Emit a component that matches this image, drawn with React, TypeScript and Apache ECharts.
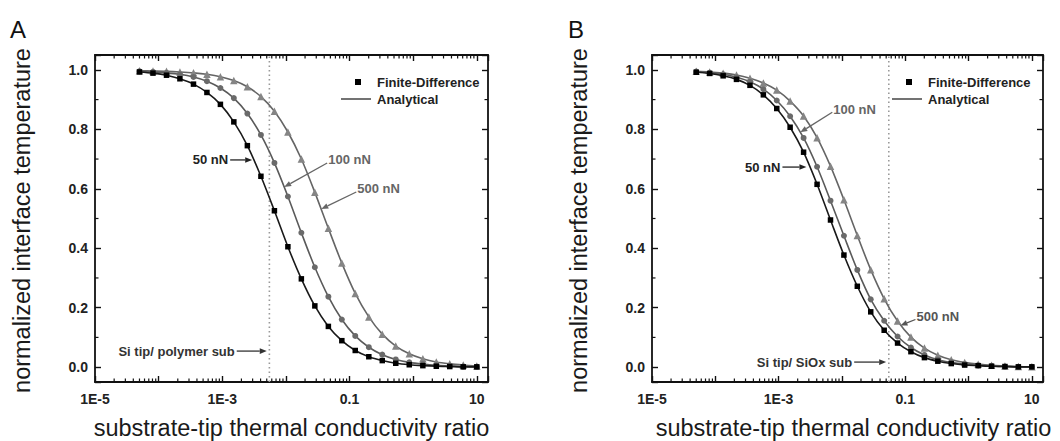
import React, { useEffect, useRef } from "react";
import * as echarts from "echarts";

const FONT = "'Liberation Sans', Arial, Helvetica, sans-serif";

// substrate-tip thermal conductivity ratio at which the points were computed
const conductivityRatio = [
  5.0e-5, 8.15e-5, 1.33e-4, 2.16e-4, 3.53e-4, 5.74e-4, 9.35e-4, 1.52e-3, 2.48e-3,
  4.05e-3, 6.6e-3, 1.075e-2, 1.75e-2, 2.85e-2, 4.65e-2, 7.57e-2, 0.123, 0.201,
  0.327, 0.533, 0.869, 1.42, 2.31, 3.76, 6.12, 10,
];

// Panel A: Si tip / polymer substrate
const polymer50nN = [0.993, 0.989, 0.982, 0.97, 0.952, 0.924, 0.884, 0.825, 0.745, 0.642, 0.526, 0.405, 0.297, 0.206, 0.137, 0.089, 0.056, 0.035, 0.022, 0.013, 0.008, 0.005, 0.003, 0.002, 0.001, 0.001];
const polymer100nN = [0.995, 0.993, 0.99, 0.985, 0.976, 0.962, 0.939, 0.905, 0.853, 0.781, 0.687, 0.574, 0.452, 0.336, 0.237, 0.16, 0.105, 0.067, 0.042, 0.026, 0.016, 0.01, 0.006, 0.004, 0.002, 0.001];
const polymer500nN = [0.997, 0.996, 0.995, 0.993, 0.99, 0.985, 0.977, 0.964, 0.943, 0.91, 0.861, 0.791, 0.7, 0.588, 0.467, 0.35, 0.248, 0.169, 0.111, 0.071, 0.045, 0.028, 0.017, 0.011, 0.007, 0.004];

// Panel B: Si tip / SiOx substrate
const siox50nN = [0.992, 0.988, 0.98, 0.968, 0.948, 0.916, 0.87, 0.807, 0.723, 0.615, 0.495, 0.377, 0.272, 0.186, 0.124, 0.081, 0.052, 0.032, 0.02, 0.012, 0.007, 0.005, 0.003, 0.002, 0.001, 0.001];
const siox100nN = [0.994, 0.99, 0.985, 0.975, 0.96, 0.935, 0.897, 0.844, 0.771, 0.674, 0.56, 0.442, 0.327, 0.228, 0.156, 0.103, 0.066, 0.041, 0.025, 0.016, 0.01, 0.006, 0.004, 0.002, 0.001, 0.001];
const siox500nN = [0.995, 0.993, 0.989, 0.983, 0.972, 0.956, 0.932, 0.895, 0.845, 0.772, 0.676, 0.563, 0.443, 0.328, 0.23, 0.155, 0.101, 0.064, 0.04, 0.025, 0.016, 0.01, 0.006, 0.004, 0.002, 0.001];

// axis definitions
const xMin = 1e-5;
const xMax = 15;
const yMin = -0.05;
const yMax = 1.05;
const xTickLabels: Record<number, string> = { [-5]: "1E-5", [-3]: "1E-3", [-1]: "0.1", [1]: "10" };
const minorDecades = [-5, -4, -3, -2, -1, 0, 1];
const minorMantissas = [2, 3, 4, 5, 6, 7, 8, 9];
const yMinorTicks = [0.1, 0.3, 0.5, 0.7, 0.9];

const xTitle = "substrate-tip thermal conductivity ratio";
const yTitle = "normalized interface temperature";

const curveStyles = [
  { name: "50 nN", symbol: "rect", size: 5.5, marker: "#000000", line: "#1a1a1a" },
  { name: "100 nN", symbol: "circle", size: 6, marker: "#6a6a6a", line: "#5a5a5a" },
  { name: "500 nN", symbol: "triangle", size: 7.5, marker: "#858585", line: "#656565" },
];

const panels = [
  {
    letter: "A",
    letterX: 10,
    left: 95,
    width: 393,
    titleShift: 0,
    legendShift: 0,
    curves: [polymer50nN, polymer100nN, polymer500nN],
    refX: 5.5e-3,
    notes: [
      { text: "50 nN", tip: [2.95e-3, 0.697], dx: -22, dy: 0, color: "#222" },
      { text: "100 nN", tip: [9.4e-3, 0.606], dx: 43, dy: -24, color: "#666" },
      { text: "500 nN", tip: [3.6e-2, 0.532], dx: 35, dy: -17, color: "#666" },
      { text: "Si tip/ polymer sub", tip: [5.0e-3, 0.054], dx: -30, dy: 0, color: "#333" },
    ],
  },
  {
    letter: "B",
    letterX: 568,
    left: 652,
    width: 391,
    titleShift: 6,
    legendShift: -4,
    curves: [siox50nN, siox100nN, siox500nN],
    refX: 0.055,
    notes: [
      { text: "100 nN", tip: [2.2e-3, 0.79], dx: 32, dy: -20, color: "#666" },
      { text: "50 nN", tip: [2.75e-3, 0.673], dx: -24, dy: 0, color: "#222" },
      { text: "500 nN", tip: [8.4e-2, 0.14], dx: 15, dy: -6, color: "#555" },
      { text: "Si tip/ SiOx sub", tip: [5.0e-2, 0.017], dx: -32, dy: 0, color: "#333" },
    ],
  },
];

const GRID_TOP = 55;
const GRID_H = 327;

function xLabel(v: number) {
  const e = Math.log10(v);
  const r = Math.round(e);
  if (Math.abs(e - r) > 1e-6) return "";
  return xTickLabels[r] ?? "";
}

function yLabel(v: number) {
  const r = Math.round(v * 5);
  if (Math.abs(v * 5 - r) > 1e-6) return "";
  return (r / 5).toFixed(1);
}

export default function App() {
  const ref = useRef<HTMLDivElement>(null);

  useEffect(() => {
    const el = ref.current;
    if (!el) return;
    const chart = echarts.init(el, null, { renderer: "svg" });

    const minorX: number[] = [];
    minorDecades.forEach((d) =>
      minorMantissas.forEach((m) => {
        const v = m * Math.pow(10, d);
        if (v < xMax) minorX.push(v);
      })
    );

    const axisLine = { show: true, onZero: false, lineStyle: { color: "#111", width: 1.8 } };
    const tick = { show: true, inside: true, length: 6, interval: 0, lineStyle: { color: "#111", width: 1.4 } };

    const grids: any[] = [];
    const xAxes: any[] = [];
    const yAxes: any[] = [];
    const series: any[] = [];
    const squareSeriesIndex: number[] = [];

    panels.forEach((p, i) => {
      grids.push({ left: p.left, top: GRID_TOP, width: p.width, height: GRID_H, containLabel: false });
      ["bottom", "top"].forEach((pos) =>
        xAxes.push({
          type: "log",
          logBase: 10,
          gridIndex: i,
          position: pos,
          min: xMin,
          max: xMax,
          axisLine,
          axisTick: tick,
          minorTick: { show: false },
          splitLine: { show: false },
          axisLabel: {
            show: pos === "bottom",
            interval: 0,
            formatter: xLabel,
            color: "#222",
            fontFamily: FONT,
            fontWeight: "bold",
            fontSize: 14,
            margin: 10,
          },
        })
      );
      ["left", "right"].forEach((pos) =>
        yAxes.push({
          type: "value",
          gridIndex: i,
          position: pos,
          min: yMin,
          max: yMax,
          splitNumber: 5,
          axisLine,
          axisTick: tick,
          splitLine: { show: false },
          axisLabel: {
            show: pos === "left",
            interval: 0,
            formatter: yLabel,
            color: "#222",
            fontFamily: FONT,
            fontWeight: "bold",
            fontSize: 14,
            margin: 7,
          },
        })
      );

      const ax = 2 * i;

      // dotted reference line (tip / substrate conductivity ratio)
      series.push({
        type: "line",
        xAxisIndex: ax,
        yAxisIndex: ax,
        data: [
          [p.refX, yMin],
          [p.refX, yMax],
        ],
        symbol: "none",
        silent: true,
        z: 1,
        lineStyle: { color: "#999999", width: 1.6, type: [1.5, 3] },
        emphasis: { disabled: true },
      });

      [2, 1, 0].forEach((j) => {
        const st = curveStyles[j];
        if (j === 0) squareSeriesIndex[i] = series.length;
        series.push({
          type: "line",
          name: st.name,
          xAxisIndex: ax,
          yAxisIndex: ax,
          data: conductivityRatio.map((x, k) => [x, p.curves[j][k]]),
          symbol: st.symbol,
          symbolSize: st.size,
          showAllSymbol: true,
          smooth: 0.3,
          lineStyle: { color: st.line, width: 1.6 },
          itemStyle: { color: st.marker, borderWidth: 0 },
          emphasis: { disabled: true },
          silent: true,
          z: 3 + (2 - j),
        });
      });

      series.push({
        type: "custom",
        xAxisIndex: ax,
        yAxisIndex: ax,
        silent: true,
        clip: false,
        data: minorX.map((v) => [v, 0.5]),
        encode: { x: 0, y: 1 },
        renderItem: (_params: any, api: any) => {
          const x = api.value(0);
          const b = api.coord([x, yMin]);
          const t = api.coord([x, yMax]);
          const style = { stroke: "#111", lineWidth: 1.2 };
          return {
            type: "group",
            children: [
              { type: "line", shape: { x1: b[0], y1: b[1], x2: b[0], y2: b[1] - 3.5 }, style },
              { type: "line", shape: { x1: t[0], y1: t[1], x2: t[0], y2: t[1] + 3.5 }, style },
            ],
          };
        },
      });
      series.push({
        type: "custom",
        xAxisIndex: ax,
        yAxisIndex: ax,
        silent: true,
        clip: false,
        data: yMinorTicks.map((v) => [1e-3, v]),
        encode: { x: 0, y: 1 },
        renderItem: (_params: any, api: any) => {
          const y = api.value(1);
          const l = api.coord([xMin, y]);
          const r = api.coord([xMax, y]);
          const style = { stroke: "#111", lineWidth: 1.2 };
          return {
            type: "group",
            children: [
              { type: "line", shape: { x1: l[0], y1: l[1], x2: l[0] + 3.5, y2: l[1] }, style },
              { type: "line", shape: { x1: r[0], y1: r[1], x2: r[0] - 3.5, y2: r[1] }, style },
            ],
          };
        },
      });
    });

    chart.setOption({
      animation: false,
      backgroundColor: "#ffffff",
      grid: grids,
      xAxis: xAxes,
      yAxis: yAxes,
      series,
    });

    const elements: any[] = [];
    const textEl = (text: string, x: number, y: number, size: number, weight: string, color: string, align: string, vAlign = "middle", rotation = 0) => ({
      type: "text",
      x,
      y,
      rotation,
      silent: true,
      style: {
        text,
        x: 0,
        y: 0,
        fill: color,
        font: `${weight} ${size}px ${FONT}`,
        align,
        verticalAlign: vAlign,
        textAlign: align,
        textVerticalAlign: vAlign,
      },
    });

    panels.forEach((p, i) => {
      const R = p.left + p.width + p.legendShift;
      const cx = p.left + p.width / 2 + p.titleShift;
      // panel letter
      elements.push(textEl(p.letter, p.letterX, 29, 24, "normal", "#111", "left"));
      // axis titles
      elements.push(textEl(xTitle, cx, 428, 23.5, "normal", "#1a1a1a", "center"));
      elements.push(textEl(yTitle, p.left - 73, GRID_TOP + GRID_H / 2 + 2, 23.5, "normal", "#1a1a1a", "center", "middle", Math.PI / 2));
      // legend
      elements.push({ type: "rect", silent: true, shape: { x: R - 133, y: GRID_TOP + 24, width: 6, height: 6 }, style: { fill: "#000" } });
      elements.push(textEl("Finite-Difference", R - 111, GRID_TOP + 27, 13, "bold", "#222", "left"));
      elements.push({ type: "line", silent: true, shape: { x1: R - 147, y1: GRID_TOP + 44, x2: R - 117, y2: GRID_TOP + 44 }, style: { stroke: "#444", lineWidth: 1.5 } });
      elements.push(textEl("Analytical", R - 111, GRID_TOP + 44, 13, "bold", "#222", "left"));

      // annotations with arrows
      p.notes.forEach((n) => {
        const tip = chart.convertToPixel({ seriesIndex: squareSeriesIndex[i] }, n.tip) as number[];
        const tail = [tip[0] + n.dx, tip[1] + n.dy];
        const vx = tip[0] - tail[0];
        const vy = tip[1] - tail[1];
        const len = Math.sqrt(vx * vx + vy * vy);
        const ux = vx / len;
        const uy = vy / len;
        const hl = 7;
        const hw = 2.8;
        const base = [tip[0] - ux * hl, tip[1] - uy * hl];
        elements.push({
          type: "line",
          silent: true,
          shape: { x1: tail[0], y1: tail[1], x2: base[0], y2: base[1] },
          style: { stroke: n.color, lineWidth: 1.3 },
        });
        elements.push({
          type: "polygon",
          silent: true,
          shape: {
            points: [
              [tip[0], tip[1]],
              [base[0] - uy * hw, base[1] + ux * hw],
              [base[0] + uy * hw, base[1] - ux * hw],
            ],
          },
          style: { fill: n.color },
        });
        if (n.dx < 0) {
          elements.push(textEl(n.text, tail[0] - 2, tail[1], 13, "bold", n.color, "right"));
        } else {
          elements.push(textEl(n.text, tail[0] + 1, tail[1] - 3, 13, "bold", n.color, "left"));
        }
      });
    });

    chart.setOption({ graphic: { elements } });

    return () => chart.dispose();
  }, []);

  return (
    <div
      ref={ref}
      style={{ position: "fixed", left: 0, top: 0, width: 1060, height: 441, background: "#fff" }}
    />
  );
}
